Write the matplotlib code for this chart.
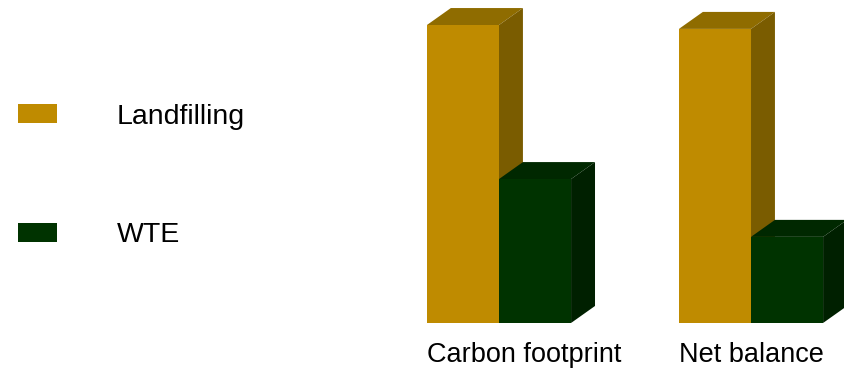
import numpy as np
import matplotlib
matplotlib.use("Agg")
import matplotlib.pyplot as plt
from matplotlib.patches import Polygon, Patch

plt.rcParams["font.family"] = ["Liberation Sans", "DejaVu Sans"]

categories = ["Carbon footprint", "Net balance"]
series = ["Landfilling", "WTE"]
landfilling = [100.0, 98.7]
wte = [48.3, 28.9]

front_col = {"Landfilling": "#BF8B00", "WTE": "#003300"}
top_col = {"Landfilling": "#8F6C00", "WTE": "#002800"}
side_col = {"Landfilling": "#7A5C00", "WTE": "#002000"}

fig = plt.figure(figsize=(8.44, 3.76), dpi=100)
ax = fig.add_axes([0, 0, 1, 1])
ax.set_xlim(-1.98, 1.369)
ax.set_ylim(-17.8, 108.4)
ax.axis("off")

width = 0.286
dx, dy = 0.095, 5.7  # depth of the fake 3d boxes
x = np.arange(len(categories))

for k, (name, vals) in enumerate(zip(series, [landfilling, wte])):
    xs = x - width / 2 + k * width
    for xc, h in zip(xs, vals):
        x0, x1 = xc - width / 2, xc + width / 2
        ax.add_patch(Polygon([(x0, h), (x1, h), (x1 + dx, h + dy), (x0 + dx, h + dy)],
                             closed=True, facecolor=top_col[name], edgecolor="none"))
        ax.add_patch(Polygon([(x1, 0), (x1 + dx, dy), (x1 + dx, h + dy), (x1, h)],
                             closed=True, facecolor=side_col[name], edgecolor="none"))
    ax.bar(xs, vals, width, color=front_col[name], linewidth=0)

for xc, cat in zip(x, categories):
    ax.text(xc - width, -10.6, cat, ha="left", va="center", fontsize=19.5, color="black")

handles = [Patch(facecolor=front_col[s], edgecolor="none", label=s) for s in series]
fig.legend(handles=handles, loc="upper left", bbox_to_anchor=(0.021, 0.724),
           frameon=False, fontsize=20.5, handlelength=1.37, handleheight=0.66,
           handletextpad=2.1, labelspacing=3.25, borderaxespad=0, borderpad=0)

fig.savefig("out.png", dpi=100, facecolor="white")
